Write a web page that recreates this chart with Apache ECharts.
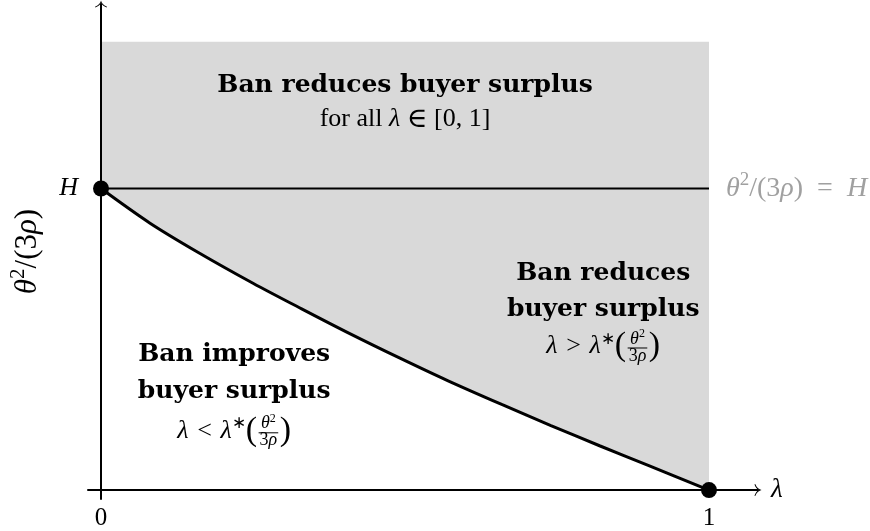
<!DOCTYPE html>
<html><head><meta charset="utf-8">
<script src="https://cdn.jsdelivr.net/npm/echarts@6/dist/echarts.min.js"></script>
<style>html,body{margin:0;padding:0;background:#fff}#c{width:870px;height:531px}</style>
</head><body><div id="c"></div>
<script>
// ---- data ----
const curveX = [0, 0.08, 0.16, 0.25, 0.33, 0.41, 0.49, 0.57, 0.66, 0.74, 0.82, 0.90, 1];
const curveY = [1, 0.886, 0.788, 0.686, 0.601, 0.518, 0.439, 0.363, 0.283, 0.214, 0.147, 0.082, 0];
const hLineX = [0, 1];
const hLineY = [1, 1];
const dotX = [0, 1];
const dotY = [1, 0];
const shadeX = [0, 1];
const shadeY = [0, 1.487];
const xTickValues = [0, 1];
const xTickLabels = ['0', '1'];
const yTickValues = [1];
const yTickLabels = ['H'];
const topTitle = ['Ban reduces buyer surplus'];
const rightTitle = ['Ban reduces', 'buyer surplus'];
const leftTitle = ['Ban improves', 'buyer surplus'];

// ---- styling ----
const SERIF = 'Liberation Serif';
const BOLD = 'DejaVu Serif';
const GRAY = '#d9d9d9';
const arrowPath = 'path://M10,0 C10.8,4 14,8 20,10.5 L19.4,11.8 C14.5,10 11.5,7.5 10,4.4 C8.5,7.5 5.5,10 0.6,11.8 L0,10.5 C6,8 9.2,4 10,0 Z';

const chart = echarts.init(document.getElementById('c'), null, {renderer: 'canvas'});
const zip = (a, b) => a.map((v, i) => [v, b[i]]);

function mathRich(size, color) {
  return {
    n: {fontFamily: SERIF, fontSize: size, color: color, lineHeight: size + 8},
    i: {fontFamily: SERIF, fontStyle: 'italic', fontSize: size, color: color, lineHeight: size + 8},
    s: {fontFamily: SERIF, fontSize: Math.round(size * 0.68), color: color, verticalAlign: 'top', lineHeight: Math.round(size * 0.68)}
  };
}

chart.setOption({
  animation: false,
  backgroundColor: '#fff',
  grid: {left: 88, right: 112, top: 4, bottom: 28, containLabel: false},
  xAxis: {
    type: 'value', min: -0.0214, max: 1.0806, z: 10,
    splitLine: {show: false},
    axisTick: {show: false},
    axisLine: {show: true, onZero: true, lineStyle: {color: '#000', width: 2},
      symbol: ['none', arrowPath], symbolSize: [12, 8]},
    axisLabel: {show: true, customValues: xTickValues, margin: 7,
      formatter: v => xTickLabels[xTickValues.indexOf(v)] ?? '',
      fontFamily: SERIF, fontSize: 25, color: '#000'},
    name: 'λ', nameLocation: 'end', nameGap: 13,
    nameTextStyle: {fontFamily: SERIF, fontStyle: 'italic', fontSize: 27, color: '#000'}
  },
  yAxis: {
    type: 'value', min: -0.0296, max: 1.6118, z: 10,
    splitLine: {show: false},
    axisTick: {show: false},
    axisLine: {show: true, onZero: true, lineStyle: {color: '#000', width: 2},
      symbol: ['none', arrowPath], symbolSize: [12, 8]},
    axisLabel: {show: true, customValues: yTickValues, margin: 10,
      formatter: v => yTickLabels[yTickValues.indexOf(v)] ?? '',
      fontFamily: SERIF, fontStyle: 'italic', fontSize: 26, color: '#000'},
    name: '{i|θ}{s|2}{n|/(3}{i|ρ}{n|)}', nameLocation: 'middle', nameRotate: 90, nameGap: 41,
    nameTextStyle: {fontFamily: SERIF, fontSize: 31, color: '#000', rich: mathRich(31, '#000')}
  },
  series: [
    {
      name: 'shade', type: 'line', z: 1, data: [], silent: true,
      markArea: {silent: true, itemStyle: {color: GRAY, opacity: 1},
        data: [[{coord: [shadeX[0], shadeY[0]]}, {coord: [shadeX[1], shadeY[1]]}]]}
    },
    {
      name: 'boundary', type: 'line', z: 2, data: zip(curveX, curveY),
      smooth: 0.3, showSymbol: false, symbol: 'none',
      lineStyle: {color: '#000', width: 3},
      areaStyle: {color: '#fff', opacity: 1}
    },
    {
      name: 'H', type: 'line', z: 3, data: zip(hLineX, hLineY),
      showSymbol: false, symbol: 'none',
      lineStyle: {color: '#000', width: 2},
      endLabel: {show: true, distance: 17, color: '#a0a0a0',
        fontFamily: SERIF, fontSize: 28,
        formatter: '{i|θ}{s|2}{n|/(3}{i|ρ}{n|)\u2002=\u2002}{i|H}',
        rich: mathRich(28, '#a0a0a0')}
    },
    {
      name: 'dots', type: 'scatter', z: 4, data: zip(dotX, dotY),
      symbolSize: 16, itemStyle: {color: '#000', opacity: 1}
    }
  ]
});

// ---- annotations (text blocks) ----
const mctx = document.createElement('canvas').getContext('2d');
function fontStr(p) { return `${p.style || 'normal'} ${p.weight || 'normal'} ${p.size}px "${p.family}"`; }
function tw(t, p) { mctx.font = fontStr(p); return mctx.measureText(t).width; }
function txt(t, x, baseline, p, align) {
  return {type: 'text', x: x, y: baseline - 0.34 * p.size, silent: true,
    style: {text: t, fontSize: p.size, fontFamily: p.family, fontStyle: p.style || 'normal',
      fontWeight: p.weight || 'normal', fill: p.color || '#000',
      align: align || 'left', textAlign: align || 'left',
      verticalAlign: 'middle', textVerticalAlign: 'middle'}};
}
const N26 = {size: 26, family: SERIF};
const I26 = {size: 26, family: SERIF, style: 'italic'};
const ELEM = {size: 28, family: 'DejaVu Serif'};
const SUP = {size: 17, family: SERIF};
const PAR = {size: 34, family: SERIF};
const FR = {size: 18, family: SERIF, style: 'italic'};
const FRN = {size: 18, family: SERIF};
const FRS = {size: 12, family: SERIF};
const B25 = {size: 25, family: BOLD, weight: 'bold'};

function seqLine(pieces, cx, baseline) {
  const els = [];
  const widths = pieces.map(pc => {
    if (pc.frac) return Math.max(tw('θ', FR) + tw('2', FRS), tw('3', FRN) + tw('ρ', FR)) + 5;
    return tw(pc.t, pc.p);
  });
  const total = widths.reduce((a, b) => a + b, 0);
  let x = cx - total / 2;
  pieces.forEach((pc, i) => {
    if (pc.frac) {
      const w = widths[i];
      const bar = baseline - 7;
      els.push({type: 'line', silent: true, shape: {x1: x + 1.5, y1: bar, x2: x + w - 1.5, y2: bar},
        style: {stroke: '#000', lineWidth: 1}});
      const nw = tw('θ', FR) + tw('2', FRS);
      const nx = x + (w - nw) / 2;
      els.push(txt('θ', nx, bar - 3, FR));
      els.push(txt('2', nx + tw('θ', FR), bar - 10, FRS));
      const dw = tw('3', FRN) + tw('ρ', FR);
      const dx = x + (w - dw) / 2;
      els.push(txt('3', dx, bar + 14, FRN));
      els.push(txt('ρ', dx + tw('3', FRN), bar + 14, FR));
    } else {
      els.push(txt(pc.t, x, baseline + (pc.dy || 0), pc.p));
    }
    x += widths[i];
  });
  return els;
}
function mathLine(rel, cx, baseline) {
  return seqLine([
    {t: 'λ', p: I26}, {t: ' \u200A' + rel + '\u200A ', p: N26}, {t: 'λ', p: I26},
    {t: '∗', p: SUP, dy: -10}, {t: '(', p: PAR, dy: 3}, {frac: true}, {t: ')', p: PAR, dy: 3}
  ], cx, baseline);
}
function forAllLine(cx, baseline) {
  return seqLine([
    {t: 'for all ', p: N26}, {t: 'λ', p: I26}, {t: ' ', p: N26}, {t: '∈', p: ELEM, dy: 1},
    {t: ' ', p: N26}, {t: '[0, 1]', p: N26}
  ], cx, baseline);
}

function px(pt) { return chart.convertToPixel({gridIndex: 0}, pt); }
const topA = px([0.5, 1.312]);
const rightA = px([0.826, 0.690]);
const leftA = px([0.219, 0.422]);

let g = [];
topTitle.forEach((t, i) => g.push(txt(t, topA[0], topA[1] + i * 33, B25, 'center')));
g = g.concat(forAllLine(topA[0], topA[1] + 34));
rightTitle.forEach((t, i) => g.push(txt(t, rightA[0], rightA[1] + i * 36, B25, 'center')));
g = g.concat(mathLine('>', rightA[0], rightA[1] + 73));
leftTitle.forEach((t, i) => g.push(txt(t, leftA[0], leftA[1] + i * 37, B25, 'center')));
g = g.concat(mathLine('<', leftA[0], leftA[1] + 77));

chart.setOption({graphic: {elements: g.map(e => Object.assign({z: 20}, e))}});
</script>
</body></html>
